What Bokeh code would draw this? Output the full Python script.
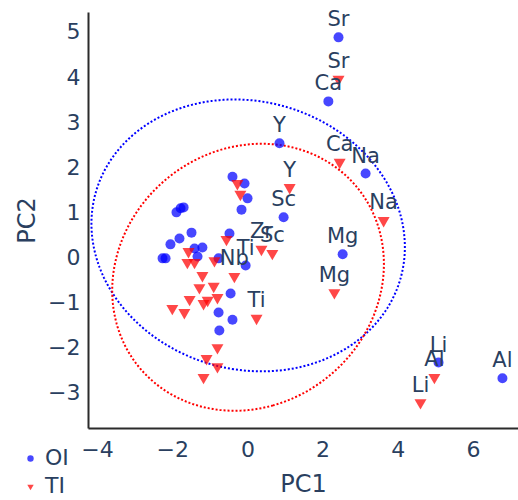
import numpy as np
from bokeh.plotting import figure
from bokeh.models import ColumnDataSource, Range1d, FixedTicker, Legend, LegendItem
from bokeh.core.properties import value
from bokeh.embed import file_html
from bokeh.resources import INLINE

# ---- data ----
oi_x = [2.41, 2.14, 0.84, 3.13, 0.95, 2.52, 5.07, 6.77, -0.06,
        -0.41, -0.09, -0.01, -0.17, -1.90, -1.79, -1.71, -1.50, -1.82, -2.06,
        -1.42, -1.21, -1.34, -2.27, -2.19, -0.49, -0.78, -0.46, -0.78, -0.41, -0.76]
oi_y = [4.87, 3.45, 2.52, 1.85, 0.88, 0.06, -2.34, -2.69, -0.19,
        1.78, 1.63, 1.30, 1.05, 0.99, 1.08, 1.10, 0.54, 0.41, 0.28,
        0.19, 0.21, 0.01, -0.03, -0.03, 0.52, -0.03, -0.81, -1.23, -1.39, -1.63]
oi_labels = ["Sr", "Ca", "Y", "Na", "Sc", "Mg", "Li", "Al", "Ti"] + [""] * 21

ti_x = [2.41, 2.44, 1.11, 3.61, 2.30, 4.59, 4.96, 0.65, 0.36, -0.36, 0.23,
        -0.28, -0.20, -0.57, -1.58, -1.61, -1.42, -0.89, -1.21, -1.29, -0.91,
        -1.55, -1.07, -1.18, -0.81, -2.01, -1.69, -0.81, -1.10, -0.81, -1.18]
ti_y = [3.94, 2.10, 1.54, 0.81, -0.79, -3.23, -2.67, 0.08, 0.17, -0.43, -1.36,
        1.63, 1.39, 0.39, 0.12, -0.12, -0.12, -0.08, -0.41, -0.68, -0.65,
        -0.94, -0.96, -1.03, -0.90, -1.14, -1.23, -2.01, -2.25, -2.43, -2.67]
ti_labels = ["Sr", "Ca", "Y", "Na", "Mg", "Li", "Al", "Sc", "Zr", "Nb", "Ti"] + [""] * 20

group_names = ["OI", "TI"]
x_ticks = [-4, -2, 0, 2, 4, 6]
x_tick_labels = ["\u22124", "\u22122", "0", "2", "4", "6"]
y_ticks = [-3, -2, -1, 0, 1, 2, 3, 4, 5]
y_tick_labels = ["\u22123", "\u22122", "\u22121", "0", "1", "2", "3", "4", "5"]

# axis extents (data units) and visible window
x_view = (-6.580, 7.197)
y_view = (-5.399, 5.687)
x_axis_span = (-4.24, 7.197)
y_axis_span = (-3.8, 5.42)

FONT = "DejaVu Sans"
TEXT_COLOR = "#2a3f5f"


def conf_ellipse(x, y, k=1.95, n=240):
    x = np.asarray(x, float)
    y = np.asarray(y, float)
    cov = np.cov(x, y, ddof=0)
    vals, vecs = np.linalg.eigh(cov)
    t = np.linspace(0, 2 * np.pi, n)
    circ = np.vstack([np.cos(t), np.sin(t)])
    pts = vecs @ (np.sqrt(vals)[:, None] * circ) * k
    return pts[0] + x.mean(), pts[1] + y.mean()


p = figure(width=518, height=500, output_backend="svg", toolbar_location=None,
           x_range=Range1d(*x_view), y_range=Range1d(*y_view),
           min_border_left=0, min_border_right=0, min_border_top=0,
           min_border_bottom=0)
p.outline_line_color = None
p.xgrid.visible = False
p.ygrid.visible = False

for ax in (p.xaxis[0], p.yaxis[0]):
    ax.axis_line_color = "#2b2b2b"
    ax.axis_line_width = 2
    ax.major_tick_line_color = None
    ax.minor_tick_line_color = None
    ax.major_tick_out = 0
    ax.major_tick_in = 0
    ax.minor_tick_out = 0
    ax.minor_tick_in = 0
    ax.major_label_text_font = FONT
    ax.major_label_text_font_size = "22px"
    ax.major_label_text_color = TEXT_COLOR
    ax.axis_label_text_font = FONT
    ax.axis_label_text_font_size = "24px"
    ax.axis_label_text_font_style = "normal"
    ax.axis_label_text_color = TEXT_COLOR

p.xaxis.ticker = FixedTicker(ticks=x_ticks)
p.xaxis.major_label_overrides = dict(zip(x_ticks, x_tick_labels))
p.yaxis.ticker = FixedTicker(ticks=y_ticks)
p.yaxis.major_label_overrides = dict(zip(y_ticks, y_tick_labels))
p.xaxis.axis_label = "PC1"
p.yaxis.axis_label = "PC2"
p.xaxis.major_label_standoff = 13
p.yaxis.major_label_standoff = 8
p.xaxis.axis_label_standoff = 9
p.yaxis.axis_label_standoff = 4
p.xaxis.fixed_location = y_axis_span[0]
p.yaxis.fixed_location = x_axis_span[0]
p.xaxis.bounds = x_axis_span
p.yaxis.bounds = y_axis_span

# ellipses
ex, ey = conf_ellipse(oi_x, oi_y)
p.line(ex, ey, line_color="blue", line_width=2, line_dash="2 2")
ex2, ey2 = conf_ellipse(ti_x, ti_y)
p.line(ex2, ey2, line_color="red", line_width=2, line_dash="2 2")

src_oi = ColumnDataSource(dict(x=oi_x, y=oi_y, label=oi_labels))
src_ti = ColumnDataSource(dict(x=ti_x, y=ti_y, label=ti_labels))

r_oi = p.scatter("x", "y", source=src_oi, marker="circle", size=10,
                 fill_color="blue", fill_alpha=0.72, line_color=None)
r_ti = p.scatter("x", "y", source=src_ti, marker="inverted_triangle", size=12,
                 fill_color="red", fill_alpha=0.72, line_color=None)

for src in (src_oi, src_ti):
    p.text("x", "y", text="label", source=src, text_align="center",
           text_baseline="middle", y_offset=-18,
           text_font=value(FONT), text_font_size="21px", text_color=TEXT_COLOR)

legend = Legend(items=[LegendItem(label=group_names[0], renderers=[r_oi]),
                       LegendItem(label=group_names[1], renderers=[r_ti])],
                location=(22, 2), orientation="vertical",
                border_line_color=None, background_fill_alpha=0,
                label_text_font=FONT, label_text_font_size="22px",
                label_text_color=TEXT_COLOR, glyph_width=16, glyph_height=16,
                spacing=3, padding=0, margin=0, label_standoff=7)
p.add_layout(legend, "center")

open("out.html", "w").write(file_html(p, INLINE))
